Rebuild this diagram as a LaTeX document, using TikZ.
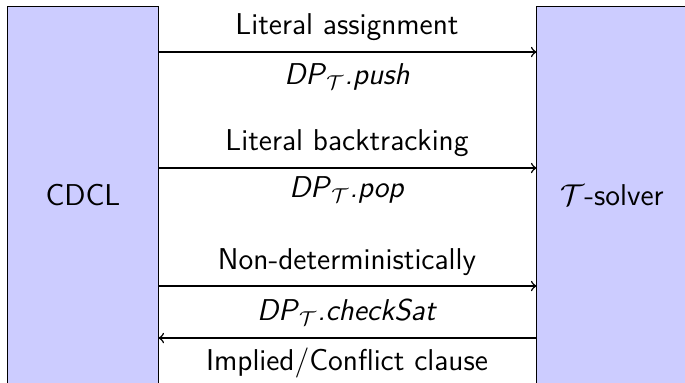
\documentclass[tikz,border=0pt]{standalone}
\usepackage{amssymb,amsmath}
\usepackage{tikz}
\renewcommand{\familydefault}{\sfdefault}
\newcommand{\dpt}[1]{\textit{DP}$_{\mathcal{T}}$\textit{.#1}}

\begin{document}
\begin{tikzpicture}[x=0.014cm,y=-0.014cm,font=\large,semithick]
\useasboundingbox (0,0) rectangle (685,382);
\clip (0,0) rectangle (685,382);
\tikzset{box/.style={draw, fill=blue!20, minimum width=151*0.014cm, minimum height=377*0.014cm, inner sep=0pt}}
\node [box] (cdcl) at (83,195) {CDCL};
\node [box] (solver) at (612,195) {$\mathcal{T}$-solver};
\coordinate (l1) at (158.5,52);  \coordinate (r1) at (536.5,52);
\coordinate (l2) at (158.5,168); \coordinate (r2) at (536.5,168);
\coordinate (l3) at (158.5,286); \coordinate (r3) at (536.5,286);
\coordinate (l4) at (158.5,338); \coordinate (r4) at (536.5,338);
\path [->] (l1) edge (r1);
\path [->] (l2) edge (r2);
\path [->] (l3) edge (r3);
\path [<-] (l4) edge (r4);
\node (t1) at (347,27) {Literal assignment};
\node (t2) at (347,77) {\dpt{push}};
\node (t3) at (347,143) {Literal backtracking};
\node (t4) at (347,190) {\dpt{pop}};
\node (t5) at (347,262) {Non-deterministically};
\node (t6) at (347,312) {\dpt{checkSat}};
\node (t7) at (347,363) {Implied/Conflict clause};
\end{tikzpicture}
\end{document}
